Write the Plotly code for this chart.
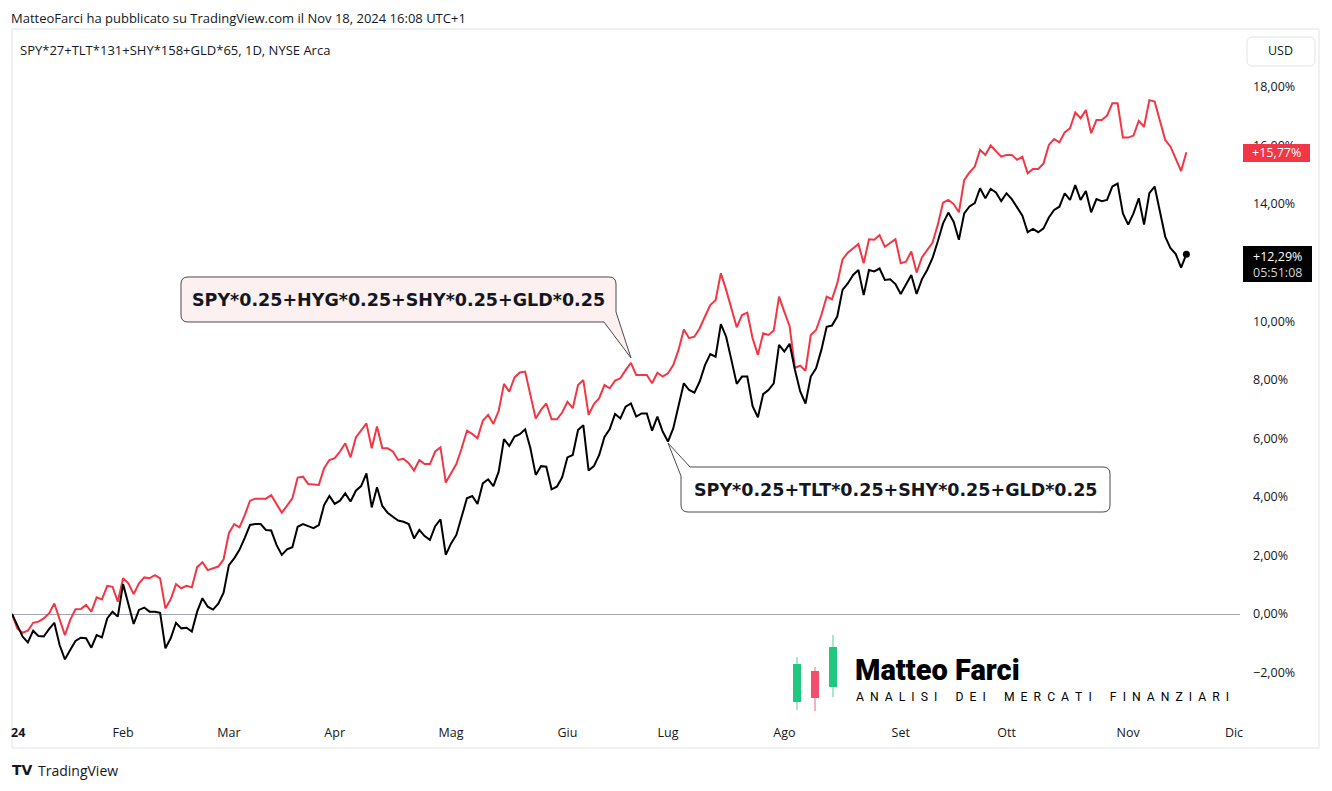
import pandas as pd
import plotly.graph_objects as go

# ---------------- data ----------------
holidays = ["2024-01-01", "2024-01-15", "2024-02-19", "2024-03-29", "2024-05-27",
            "2024-06-19", "2024-07-04", "2024-09-02", "2024-11-28"]
sessions = [d for d in pd.bdate_range("2024-01-02", "2024-12-02")
            if d.strftime("%Y-%m-%d") not in holidays]
last_day = pd.Timestamp("2024-11-18")
dates = [d for d in sessions if d <= last_day]

month_labels = ["24", "Feb", "Mar", "Apr", "Mag", "Giu", "Lug", "Ago", "Set", "Ott", "Nov", "Dic"]

# SPY*0.25+HYG*0.25+SHY*0.25+GLD*0.25 (% change)
red_hyg = [
    0.00, -0.49, -0.64, -0.57, -0.30, -0.26, -0.15, 0.02, 0.36, -0.20,
    -0.72, -0.20, 0.16, 0.17, 0.31, 0.08, 0.57, 0.50, 0.96, 0.93,
    0.42, 1.22, 1.05, 0.68, 1.05, 1.25, 1.22, 1.33, 1.22, 0.19,
    0.50, 1.02, 0.88, 0.96, 0.91, 1.60, 1.77, 1.50, 1.56, 1.62,
    1.87, 2.76, 3.07, 2.96, 3.38, 3.87, 3.94, 3.94, 3.94, 4.06,
    3.75, 3.46, 3.70, 3.95, 4.66, 4.69, 4.44, 4.42, 4.41, 4.98,
    5.26, 5.32, 5.55, 5.83, 5.35, 6.03, 6.25, 6.51, 5.66, 6.40,
    5.66, 5.66, 5.55, 5.26, 5.30, 5.15, 4.90, 5.26, 5.12, 5.12,
    5.55, 5.69, 4.49, 4.80, 5.12, 5.66, 6.26, 6.15, 6.00, 6.60,
    6.80, 6.49, 6.94, 7.86, 7.59, 8.08, 8.25, 8.28, 7.48, 6.68,
    6.97, 7.19, 6.65, 6.65, 6.88, 7.25, 7.03, 7.82, 7.99, 6.80,
    7.17, 7.37, 7.82, 7.71, 7.97, 8.05, 8.33, 8.58, 8.16, 8.16,
    8.16, 7.88, 8.24, 8.11, 8.22, 8.50, 9.02, 9.72, 9.42, 9.47,
    9.76, 10.16, 10.55, 10.72, 11.64, 11.07, 10.41, 9.79, 10.21, 10.29,
    9.42, 8.85, 9.59, 9.53, 9.68, 10.84, 10.32, 9.83, 8.41, 8.48,
    8.31, 9.53, 9.70, 10.21, 10.84, 10.75, 11.29, 12.11, 12.34, 12.49,
    12.64, 11.98, 12.80, 12.78, 12.94, 12.54, 12.68, 12.80, 11.98, 12.03,
    12.38, 11.66, 12.18, 12.41, 12.68, 13.29, 14.05, 14.14, 14.00, 13.72,
    14.82, 15.08, 15.28, 15.85, 15.68, 16.00, 15.81, 15.62, 15.68, 15.68,
    15.51, 15.62, 15.05, 15.20, 15.20, 15.39, 16.02, 16.22, 16.11, 16.45,
    16.59, 17.13, 16.93, 17.21, 16.42, 16.87, 16.87, 17.02, 17.44, 17.44,
    16.27, 16.27, 16.34, 16.84, 16.64, 17.55, 17.50, 16.82, 16.19, 15.96,
    15.54, 15.13, 15.77,
]

# SPY*0.25+TLT*0.25+SHY*0.25+GLD*0.25 (% change)
black_tlt = [
    0.00, -0.38, -0.77, -0.97, -0.57, -0.75, -0.77, -0.52, -0.30, -1.06,
    -1.55, -1.23, -0.92, -0.81, -0.83, -1.15, -0.72, -0.80, -0.15, 0.08,
    -0.09, 1.02, 0.36, -0.34, 0.14, 0.22, 0.08, 0.08, 0.04, -1.17,
    -0.83, -0.30, -0.49, -0.47, -0.60, 0.08, 0.54, 0.25, 0.15, 0.35,
    0.73, 1.67, 1.90, 2.19, 2.60, 3.04, 3.07, 3.07, 2.87, 2.85,
    2.36, 2.02, 2.21, 2.28, 2.98, 3.07, 3.00, 2.93, 3.04, 3.72,
    4.03, 3.76, 3.87, 4.12, 3.84, 4.21, 4.37, 4.80, 3.64, 4.33,
    3.69, 3.46, 3.32, 3.19, 3.15, 3.07, 2.58, 2.87, 2.66, 2.53,
    3.00, 3.23, 2.02, 2.41, 2.70, 3.32, 3.95, 4.03, 3.76, 4.46,
    4.60, 4.37, 4.86, 5.97, 5.74, 6.06, 6.14, 6.31, 5.66, 4.75,
    5.05, 5.03, 4.26, 4.35, 4.67, 5.35, 5.43, 6.28, 6.45, 4.90,
    5.05, 5.43, 6.05, 6.32, 6.83, 6.68, 7.08, 7.19, 6.74, 6.85,
    6.85, 6.26, 6.74, 6.23, 5.89, 6.34, 7.08, 7.88, 7.65, 7.56,
    7.94, 8.50, 8.88, 8.79, 9.90, 9.47, 8.67, 7.86, 8.11, 8.11,
    7.10, 6.72, 7.51, 7.65, 7.88, 9.19, 8.96, 9.23, 8.34, 7.60,
    7.19, 8.11, 8.39, 9.02, 9.81, 9.85, 10.16, 11.07, 11.29, 11.58,
    11.75, 10.89, 11.75, 11.70, 11.80, 11.41, 11.43, 11.27, 10.93, 11.24,
    11.58, 10.93, 11.43, 11.75, 12.15, 12.72, 13.34, 13.71, 13.40, 12.78,
    13.68, 13.92, 14.03, 14.54, 14.20, 14.52, 14.40, 14.10, 14.37, 14.17,
    13.88, 13.60, 13.04, 13.15, 13.04, 13.17, 13.54, 13.80, 13.91, 14.37,
    14.14, 14.65, 14.14, 14.45, 13.72, 14.17, 14.10, 14.14, 14.60, 14.70,
    13.68, 13.30, 13.68, 14.20, 13.30, 14.37, 14.60, 13.76, 12.89, 12.49,
    12.29, 11.83, 12.29,
]

y_ticks = [-2, 0, 2, 4, 6, 8, 10, 12, 14, 16, 18]
hidden_ticks = [12]  # covered by the last-price label in the original

red_label = "SPY*0.25+HYG*0.25+SHY*0.25+GLD*0.25"
black_label = "SPY*0.25+TLT*0.25+SHY*0.25+GLD*0.25"

# ---------------- positions (bar index, like TradingView) ----------------
idx = list(range(len(dates)))
month_idx = []
seen = set()
for i, d in enumerate(sessions):
    key = (d.year, d.month)
    if key not in seen:
        seen.add(key)
        month_idx.append(i)

# layout geometry in pixels
W, H = 1332, 791
L, R, T, B = 12, 1240, 29, 720
BAR_PX = 5.29
PCT_PX = 29.28
ZERO_Y = 614


def px(x):
    return (x - L) / (R - L)


def py(y):
    return (B - y) / (B - T)


def P(x, y):
    return f"{px(x):.5f},{py(y):.5f}"


FONT = "Open Sans, DejaVu Sans, sans-serif"
CALLOUT_FONT = "DejaVu Sans, sans-serif"
TXT = "#131722"

fig = go.Figure()
fig.add_trace(go.Scatter(x=idx, y=red_hyg, mode="lines", name=red_label,
                         customdata=[d.strftime("%Y-%m-%d") for d in dates],
                         line=dict(color="#f23645", width=2)))
fig.add_trace(go.Scatter(x=idx, y=black_tlt, mode="lines", name=black_label,
                         customdata=[d.strftime("%Y-%m-%d") for d in dates],
                         line=dict(color="#000000", width=2)))
fig.add_trace(go.Scatter(x=[idx[-1]], y=[black_tlt[-1]], mode="markers",
                         marker=dict(color="#000000", size=7), showlegend=False))


def fmt(v):
    s = f"{abs(v):.2f}".replace(".", ",") + "%"
    return ("\u2212" + s) if v < 0 else s


shapes = []
# chart frame
shapes.append(dict(type="rect", xref="paper", yref="paper",
                   x0=px(12), x1=px(1319), y0=py(748), y1=py(29),
                   line=dict(color="#e0e3eb", width=1), layer="below"))


def rounded(x0, y0, x1, y1, r):
    return (f"M{P(x0+r,y0)} L{P(x1-r,y0)} Q{P(x1,y0)} {P(x1,y0+r)} L{P(x1,y1-r)} "
            f"Q{P(x1,y1)} {P(x1-r,y1)} L{P(x0+r,y1)} Q{P(x0,y1)} {P(x0,y1-r)} "
            f"L{P(x0,y0+r)} Q{P(x0,y0)} {P(x0+r,y0)} Z")


# USD box
shapes.append(dict(type="path", xref="paper", yref="paper", path=rounded(1247, 37, 1315, 66, 6),
                   line=dict(color="#e0e3eb", width=1), fillcolor="white", layer="above"))

# callout 1 (red series)
r = 7
x0, y0, x1, y1 = 181, 277, 616, 322
b1 = (f"M{P(x0+r,y0)} L{P(x1-r,y0)} Q{P(x1,y0)} {P(x1,y0+r)} L{P(x1,312)} "
      f"L{P(631,358)} L{P(604,y1)} L{P(x0+r,y1)} Q{P(x0,y1)} {P(x0,y1-r)} "
      f"L{P(x0,y0+r)} Q{P(x0,y0)} {P(x0+r,y0)} Z")
shapes.append(dict(type="path", xref="paper", yref="paper", path=b1,
                   line=dict(color="#4a4a4a", width=1), fillcolor="#fdf0f0", layer="above"))

# callout 2 (black series)
x0, y0, x1, y1 = 681, 467, 1110, 512
b2 = (f"M{P(690,y0)} L{P(x1-r,y0)} Q{P(x1,y0)} {P(x1,y0+r)} L{P(x1,y1-r)} "
      f"Q{P(x1,y1)} {P(x1-r,y1)} L{P(x0+r,y1)} Q{P(x0,y1)} {P(x0,y1-r)} "
      f"L{P(x0,476)} L{P(668,443)} Z")
shapes.append(dict(type="path", xref="paper", yref="paper", path=b2,
                   line=dict(color="#4a4a4a", width=1), fillcolor="#ffffff", layer="above"))

# price labels on the scale
shapes.append(dict(type="rect", xref="paper", yref="paper",
                   x0=px(1243), x1=px(1310), y0=py(162), y1=py(144),
                   line=dict(width=0), fillcolor="#f23645", layer="above"))
shapes.append(dict(type="rect", xref="paper", yref="paper",
                   x0=px(1243), x1=px(1312), y0=py(282), y1=py(246),
                   line=dict(width=0), fillcolor="#000000", layer="above"))

# logo candles
candles = [
    (797, 657, 710, 793, 801, 664, 702, "#1fc77f", "#a6e8c8"),
    (815, 667, 711, 811, 819, 671, 698, "#f2506d", "#f5b3bf"),
    (833, 635, 697, 829, 837, 647, 687, "#1fc77f", "#a6e8c8"),
]
for wx, wy0, wy1, bx0, bx1, by0, by1, bc, wc in candles:
    shapes.append(dict(type="line", xref="paper", yref="paper",
                       x0=px(wx), x1=px(wx), y0=py(wy0), y1=py(wy1),
                       line=dict(color=wc, width=2), layer="above"))
    shapes.append(dict(type="rect", xref="paper", yref="paper",
                       x0=px(bx0), x1=px(bx1), y0=py(by1), y1=py(by0),
                       line=dict(width=0), fillcolor=bc, layer="above"))

ann = []


def add_text(x, y, text, size=12, color=TXT, xanchor="left", weight=None, family=FONT):
    f = dict(size=size, color=color, family=family)
    if weight:
        f["weight"] = weight
    ann.append(dict(xref="paper", yref="paper", x=px(x), y=py(y), text=text,
                    showarrow=False, xanchor=xanchor, yanchor="middle", font=f,
                    borderpad=0))


add_text(10, 18, "MatteoFarci ha pubblicato su TradingView.com il Nov 18, 2024 16:08 UTC+1", size=13)
add_text(19, 50, "SPY*27+TLT*131+SHY*158+GLD*65, 1D, NYSE Arca", size=13)
add_text(1281, 51, "USD", size=12.5, xanchor="center")
add_text(398.5, 299.5, red_label, size=17.5, xanchor="center", weight=700, family=CALLOUT_FONT)
add_text(895.5, 489.5, black_label, size=17.5, xanchor="center", weight=700, family=CALLOUT_FONT)
add_text(1276.5, 153, "+" + fmt(red_hyg[-1]), size=12.5, color="#ffffff", xanchor="center")
ann.append(dict(xref="paper", yref="paper", x=px(1277.5), y=py(264),
                text="+" + fmt(black_tlt[-1]) + "<br><span style='color:#d1d4dc'>05:51:08</span>",
                showarrow=False, xanchor="center", yanchor="middle", borderpad=0,
                font=dict(size=12.5, color="#ffffff", family=FONT)))
add_text(10, 733, "<b>" + month_labels[0] + "</b>", size=12.5)
add_text(854, 670, "Matteo Farci", size=29, color="#000000", weight=900,
         family="Roboto, sans-serif")
spaced = ("\u00a0" * 6).join(("\u00a0" * 2).join(w) for w in "ANALISI DEI MERCATI FINANZIARI".split())
add_text(855, 697, spaced, size=12.2, color="#000000", family="Roboto, sans-serif")
add_text(11, 770, "<b>TV</b>", size=14, color="#131722", family="DejaVu Sans, sans-serif")
add_text(37, 770, "TradingView", size=14, color="#131722")

fig.update_layout(
    width=W, height=H,
    margin=dict(l=L, r=W - R, t=T, b=H - B),
    paper_bgcolor="white", plot_bgcolor="white",
    showlegend=False,
    font=dict(family=FONT, color=TXT, size=12),
    shapes=shapes, annotations=ann,
    xaxis=dict(range=[0, (R - L) / BAR_PX], tickvals=month_idx[1:], ticktext=month_labels[1:],
               showgrid=False, zeroline=False, showline=False, ticks="",
               ticklabelstandoff=3,
               tickfont=dict(size=12.5, color=TXT), fixedrange=True),
    yaxis=dict(side="right", range=[(ZERO_Y - B) / PCT_PX, (ZERO_Y - T) / PCT_PX],
               tickvals=y_ticks,
               ticktext=["" if v in hidden_ticks else fmt(v) for v in y_ticks],
               showgrid=False, zeroline=True, zerolinecolor="#a3a6af", zerolinewidth=1,
               showline=False, ticks="", ticklabelstandoff=12,
               tickfont=dict(size=12.5, color=TXT), fixedrange=True),
)

fig.write_html("out.html", config={"displayModeBar": False},
               post_script="document.body.style.margin='0';document.body.style.overflow='hidden';")
